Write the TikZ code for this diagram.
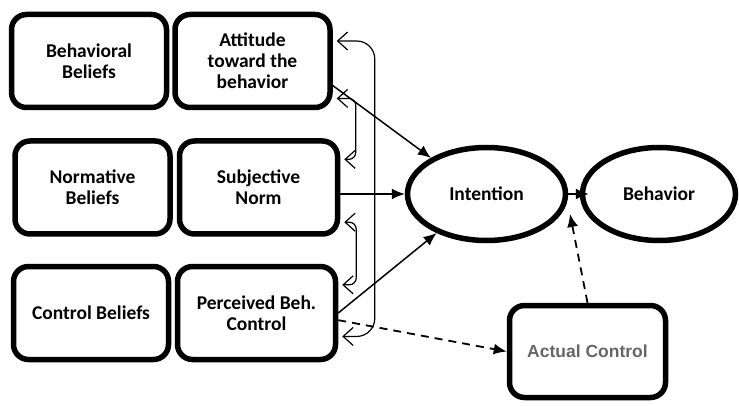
\documentclass[tikz,border=0pt]{standalone}
\usepackage{fontspec}
\setmainfont{Carlito}
\newfontfamily\acfont{Liberation Sans}
\usetikzlibrary{arrows.meta,shapes.geometric}
\tikzset{box/.style={draw, rounded corners=15pt, line width=5.5pt, minimum width=155pt, minimum height=93pt,
      align=center, inner sep=2pt, font=\bfseries\fontsize{19.5}{21}\selectfont}}
\tikzset{oval/.style={ellipse, draw, line width=5.5pt, minimum width=156pt, minimum height=93pt,
      inner sep=0pt, font=\bfseries\fontsize{19.5}{21}\selectfont}}
\tikzset{link/.style={-{Latex[length=13pt,width=11pt]}, line width=1.5pt}}
\tikzset{dlink/.style={link, line width=1.8pt, dash pattern=on 8pt off 6pt}}
\tikzset{corr/.style={{Straight Barb[length=10pt,width=18pt]}-{Straight Barb[length=10pt,width=18pt]},
      line width=1.2pt, shorten <=4pt, shorten >=4pt}}

\begin{document}
\begin{tikzpicture}[x=1pt,y=-1pt]
    \useasboundingbox (0,0) rectangle (739,406);
    \node[box] (bb) at (89,61) {Behavioral\\Beliefs};
    \node[box] (att) at (252.5,61) {Attitude\\toward the\\behavior};
    \node[box] (nb) at (92.5,187.5) {Normative\\Beliefs};
    \node[box, minimum width=158pt] (sub) at (258.5,187.5) {Subjective\\Norm};
    \node[box] (cb) at (91,313) {Control Beliefs};
    \node[box, minimum width=158pt] (per) at (256.5,313) {Perceived Beh.\\Control};
    \node[oval, minimum width=158pt] (int) at (486.5,194) {Intention};
    \node[oval, minimum width=153pt] (beh) at (659,194) {Behavior};
    \node[box, minimum width=156pt, minimum height=92pt, font=\acfont\bfseries\fontsize{17.5}{19}\selectfont,
      text=black!60] (act) at (587.5,351.5) {Actual Control};
    \coordinate (gap) at (570,214);

    \draw[corr, rounded corners=18pt] (att.14) -- ++(42,0) |- (per.-16);
    \draw[corr, rounded corners=7pt] (att.-25) -- ++(23,0) |- (sub.19);
    \draw[corr, rounded corners=7pt] (sub.-23) -- ++(16,0) |- (per.19);

    \draw[link] (att.-17) -- (int.147);
    \draw[link] (sub.east |- int.west) -- (int.west);
    \draw[link] (per.east) -- (int.218);
    \draw[link, shorten >=-9pt] (int.east) -- (beh.west);
    \draw[dlink] (per.-5) -- (act.west);
    \draw[dlink] (act.north) -- (gap);
  \end{tikzpicture}
\end{document}
